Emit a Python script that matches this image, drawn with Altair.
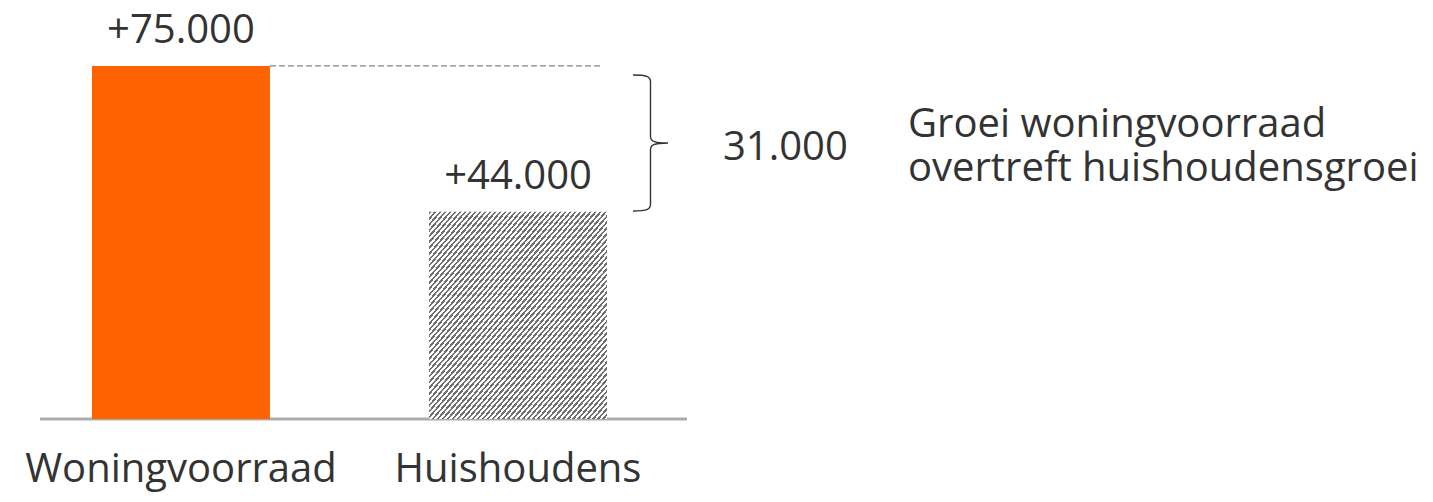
import altair as alt
import pandas as pd

# ---- data ----
categories = ["Woningvoorraad", "Huishoudens"]
growth = [75000, 44000]
difference_label = ["31.000"]
note_lines = ["Groei woningvoorraad\novertreft huishoudensgroei"]
brace_mid_value = [58640]

def fmt(v, sign=True):
    s = f"{v:,}".replace(",", ".")
    return ("+" if sign else "") + s

df = pd.DataFrame({"cat": categories, "value": growth,
                   "label": [fmt(v) for v in growth]})
ann = pd.DataFrame({"diff": difference_label, "note": note_lines,
                    "mid": brace_mid_value, "base": [0], "top": [growth[0]]})

FONT = "Open Sans"
FS = 40
TXT = "#333333"
ORANGE = "#FF6200"
GREY = "#707070"

# diagonal hatch emulated with a hard-stop linear gradient
N = 71
DARK = 0.47
stops = []
for i in range(N):
    a, m, b = i / N, (i + DARK) / N, (i + 1) / N
    stops += [{"offset": round(a, 5), "color": GREY},
              {"offset": round(m, 5), "color": GREY},
              {"offset": round(m, 5), "color": "#ffffff"},
              {"offset": round(b, 5), "color": "#ffffff"}]
hatch = {"gradient": "linear", "stops": stops, "x1": 0, "y1": 0, "x2": 1, "y2": 1}

YSC = alt.Scale(domain=[0, 87300], nice=False, zero=True)

x_enc = alt.X("cat:N", sort=categories,
              scale=alt.Scale(domain=categories, range=[84, 599],
                              paddingInner=0.472, paddingOuter=0),
              axis=alt.Axis(title=None, domain=False, ticks=False, tickSize=0,
                            labelAngle=0, labelFont=FONT, labelFontSize=FS,
                            labelColor=TXT, labelPadding=62,
                            labelBaseline="alphabetic", labelLimit=1000,
                            grid=False))
y_enc = alt.Y("value:Q", scale=YSC, axis=None)

base = alt.Chart(df)

bar_orange = base.transform_filter(alt.datum.cat == categories[0]).mark_bar(
    fill=ORANGE).encode(x=x_enc, y=y_enc)
bar_hatch = base.transform_filter(alt.datum.cat == categories[1]).mark_bar(
    fill=hatch).encode(x=x_enc, y=y_enc)

value_text = base.mark_text(font=FONT, fontSize=FS, color=TXT, dy=-23,
                            baseline="alphabetic", align="center").encode(
    x=x_enc, y=y_enc, text="label:N")

baseline_rule = alt.Chart(ann).mark_rule(color="#ababab", strokeWidth=3).encode(
    x=alt.value(32), x2=alt.value(679), y=alt.Y("base:Q", axis=None))

dashed = alt.Chart(ann).mark_rule(color="#666666", strokeWidth=1,
                                  strokeDash=[6, 3]).encode(
    x=alt.value(262), x2=alt.value(595), y=alt.Y("top:Q", axis=None))

brace_path = ("M -0.257 -1 C -0.06 -1 0 -0.98 0 -0.9 L 0 -0.1 "
              "C 0 -0.03 0.04 0 0.257 0 C 0.04 0 0 0.03 0 0.1 "
              "L 0 0.9 C 0 0.98 -0.06 1 -0.257 1")
brace = alt.Chart(ann).mark_point(shape=brace_path, size=136 * 136, filled=False,
                                  stroke=TXT, strokeWidth=1.4, opacity=1).encode(
    x=alt.value(642.5), y=alt.Y("mid:Q", axis=None))

diff_text = alt.Chart(ann).mark_text(font=FONT, fontSize=FS, color=TXT,
                                     align="left", baseline="alphabetic").encode(
    x=alt.value(715), y=alt.value(152), text="diff:N")

note_text = alt.Chart(ann).mark_text(font=FONT, fontSize=FS, color=TXT,
                                     align="left", baseline="alphabetic",
                                     lineBreak="\n", lineHeight=44).encode(
    x=alt.value(900), y=alt.value(129), text="note:N")

chart = alt.layer(baseline_rule, bar_orange, bar_hatch, dashed, value_text,
                  brace, diff_text, note_text).properties(
    width=1417, height=411,
    padding={"left": 0, "top": 0, "right": 0, "bottom": 75},
    autosize=alt.AutoSizeParams(type="none"),
    background="#ffffff",
).configure_view(stroke=None)

chart.save("out.html", embed_options={"renderer": "svg", "actions": False})
